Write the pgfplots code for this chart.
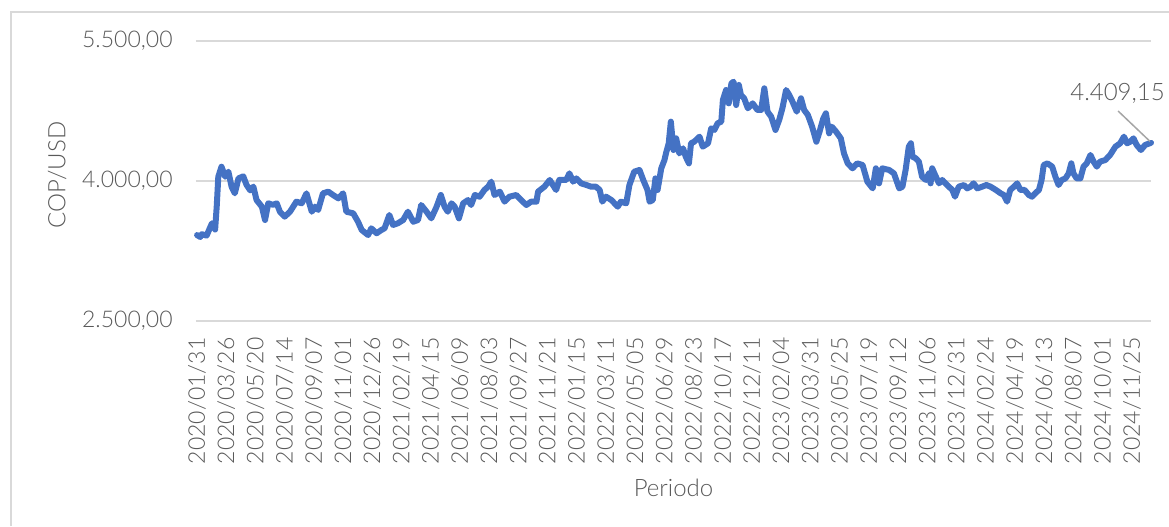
\documentclass[border=0pt]{standalone}
\usepackage{fontspec}
\IfFontExistsTF{Lato Light}{\setmainfont{Lato Light}}{\setmainfont{Lato}}
\usepackage{pgfplots}
\usepackage{pgfplotstable}
\pgfplotsset{compat=1.18}
\definecolor{lineblue}{HTML}{4472C4}
\definecolor{txt}{HTML}{595959}
\definecolor{gridc}{HTML}{D9D9D9}
\definecolor{leader}{HTML}{A6A6A6}
\pgfplotstableread{
day cop
0 3421
6 3400
9 3430
18 3415
28 3547
34 3480
37 3725
40 4046
46 4153
53 4046
59 4100
65 3939
71 3868
78 4028
87 4050
93 3960
100 3900
106 3940
112 3796
122 3725
128 3582
134 3761
143 3745
150 3761
156 3671
165 3618
175 3671
187 3779
197 3761
206 3868
216 3671
222 3725
228 3690
237 3868
247 3886
256 3850
266 3814
275 3868
281 3671
294 3654
303 3564
310 3475
322 3421
328 3493
338 3440
347 3475
353 3493
362 3636
369 3529
378 3547
388 3582
397 3671
407 3564
416 3582
422 3743
432 3671
441 3600
451 3725
459 3850
466 3725
472 3671
479 3761
485 3725
493 3600
501 3761
510 3796
516 3743
523 3850
532 3832
541 3904
548 3939
554 3993
560 3850
570 3886
579 3779
588 3832
601 3850
610 3796
620 3743
629 3779
639 3779
642 3886
654 3939
664 4011
670 3957
676 3904
682 4011
695 4011
701 4082
708 3993
714 4028
723 3975
733 3957
742 3939
751 3939
758 3904
763 3779
770 3832
780 3796
786 3761
792 3725
798 3779
808 3761
814 3957
823 4100
833 4118
840 4011
848 3904
852 3779
858 3796
863 4028
867 3904
874 4136
880 4225
883 4300
888 4404
892 4636
897 4332
902 4457
908 4296
915 4350
920 4261
926 4189
930 4404
936 4421
946 4475
952 4368
962 4404
968 4564
974 4547
980 4618
987 4636
990 4868
996 4975
1001 4832
1006 5046
1010 5064
1015 4814
1020 5029
1024 4921
1030 4886
1037 4779
1046 4832
1055 4761
1062 4761
1068 4993
1074 4743
1081 4689
1089 4547
1096 4654
1102 4779
1109 4975
1115 4921
1121 4850
1129 4743
1137 4886
1143 4761
1150 4707
1158 4582
1166 4421
1172 4529
1179 4671
1184 4725
1190 4511
1195 4582
1203 4529
1212 4457
1218 4296
1225 4189
1234 4136
1243 4189
1253 4171
1262 3993
1272 3921
1278 4136
1284 3975
1290 4136
1303 4118
1312 4082
1322 3921
1328 3939
1334 4118
1340 4368
1344 4404
1347 4261
1353 4243
1359 4207
1365 4046
1372 4011
1378 4082
1381 3975
1384 4136
1391 4046
1397 3975
1403 4011
1412 3957
1422 3904
1427 3832
1434 3939
1444 3957
1450 3921
1456 3939
1462 3975
1469 3921
1478 3939
1486 3957
1494 3939
1504 3904
1513 3868
1519 3850
1525 3779
1531 3904
1538 3939
1544 3975
1550 3904
1558 3904
1566 3850
1572 3832
1578 3868
1585 3904
1590 4011
1594 4171
1601 4189
1610 4154
1616 4046
1622 3957
1628 4011
1635 4028
1641 4082
1646 4189
1650 4082
1656 4028
1663 4028
1669 4154
1675 4189
1682 4279
1688 4207
1694 4154
1700 4207
1710 4225
1719 4279
1729 4368
1738 4404
1745 4475
1751 4404
1757 4421
1763 4457
1769 4386
1777 4332
1785 4386
1796 4409.15
}\copdata
\begin{document}
\begin{tikzpicture}
\useasboundingbox (0,0) rectangle (584.5pt,263pt);
\draw[gridc, line width=0.75pt] (5.5pt,0) -- (5.5pt,257pt) -- (584.5pt,257pt);
\begin{axis}[
  at={(98pt,102.5pt)}, anchor=south west,
  scale only axis, width=477.5pt, height=140pt,
  xmin=-2, xmax=1796, ymin=2500, ymax=5500,
  axis line style={draw=none},
  major tick length=0pt,
  ymajorgrids,
  grid style={gridc, line width=0.75pt},
  ytick={2500,4000,5500},
  yticklabels={{2.500,00},{4.000,00},{5.500,00}},
  xtick={0,55,...,1760},
  xticklabels={2020/01/31,2020/03/26,2020/05/20,2020/07/14,2020/09/07,2020/11/01,2020/12/26,2021/02/19,2021/04/15,2021/06/09,2021/08/03,2021/09/27,2021/11/21,2022/01/15,2022/03/11,2022/05/05,2022/06/29,2022/08/23,2022/10/17,2022/12/11,2023/02/04,2023/03/31,2023/05/25,2023/07/19,2023/09/12,2023/11/06,2023/12/31,2024/02/24,2024/04/19,2024/06/13,2024/08/07,2024/10/01,2024/11/25},
  tick label style={font=\fontsize{11.5}{13}\selectfont, text=txt},
  yticklabel style={anchor=east, inner sep=0pt, xshift=-11.5pt},
  xticklabel style={yshift=-8pt, rotate=90, anchor=east, inner sep=0pt},
  xlabel={Periodo},
  ylabel={COP/USD},
  label style={font=\fontsize{12}{14}\selectfont, text=txt},
  xlabel style={at={(axis description cs:0.5,-0.596)}, anchor=center},
  ylabel style={at={(axis description cs:-0.1455,0.521)}, anchor=center},
  clip=false,
]
\addplot[lineblue, line width=3pt, line join=round, line cap=round, no markers] table[x=day, y=cop] {\copdata};
\draw[leader, line width=0.75pt] (axis cs:1734,4750) -- (axis cs:1794,4425);
\node[text=txt, font=\fontsize{12}{14}\selectfont, inner sep=0pt] at (axis cs:1733,4943) {4.409,15};
\end{axis}
\end{tikzpicture}
\end{document}
